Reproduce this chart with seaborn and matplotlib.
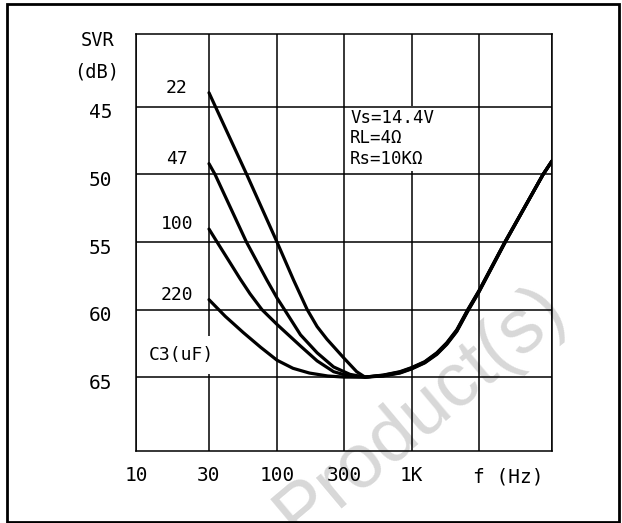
import numpy as np
import pandas as pd
import seaborn as sns
import matplotlib.pyplot as plt
import matplotlib.transforms as mtransforms
from matplotlib.patches import Rectangle

# SVR vs frequency for each C3 value
cap_labels = ['22', '47', '100', '220']

f_22 = [30, 58.5, 100, 131, 164, 193, 227, 300, 376, 436, 604, 814, 1000, 1240, 1510, 1775, 2090, 2500, 3000, 4600, 8630, 10000]
svr_22 = [43.95, 50.0, 55.0, 57.8, 60.0, 61.26, 62.2, 63.6, 64.6, 65.0, 64.85, 64.6, 64.3, 63.86, 63.2, 62.46, 61.5, 60.0, 58.6, 55.0, 50.0, 49.0]

f_47 = [30, 33.4, 58.2, 83.4, 100, 113, 147, 193, 253, 334, 436, 604, 814, 1000, 1240, 1510, 1775, 2090, 2500, 3000, 4600, 8630, 10000]
svr_47 = [49.2, 50.0, 55.0, 57.8, 59.14, 60.0, 61.87, 63.2, 64.25, 64.8, 65.0, 64.87, 64.63, 64.33, 63.89, 63.24, 62.5, 61.54, 60.04, 58.63, 55.0, 50.0, 49.0]

f_100 = [30, 34.6, 43.6, 52.0, 62, 76.5, 100, 147, 193, 253, 334, 436, 604, 814, 1000, 1240, 1510, 1775, 2090, 2500, 3000, 4600, 8630, 10000]
svr_100 = [54.04, 55.0, 56.54, 57.72, 58.83, 60.0, 61.1, 62.7, 63.8, 64.6, 64.95, 65.0, 64.9, 64.67, 64.37, 63.92, 63.28, 62.54, 61.58, 60.08, 58.66, 55.05, 50.0, 49.0]

f_220 = [30, 40, 55, 75, 100, 130, 170, 230, 300, 436, 604, 814, 1000, 1240, 1510, 1775, 2090, 2500, 3000, 4600, 8630, 10000]
svr_220 = [59.27, 60.5, 61.7, 62.8, 63.75, 64.35, 64.7, 64.92, 65.0, 65.0, 64.92, 64.7, 64.4, 63.95, 63.32, 62.58, 61.62, 60.12, 58.7, 55.05, 50.0, 49.0]

x_ticks = [10, 30, 100, 300, 1000, 3000, 10000]
x_tick_labels = ['10', '30', '100', '300', '1K', '', '']
y_ticks = [45, 50, 55, 60, 65]

sns.set_theme(style='white')
plt.rcParams['font.family'] = ['DejaVu Sans Mono', 'DejaVu Sans']

curves = pd.concat([
    pd.DataFrame({'f': f, 'svr': s, 'C3': lbl})
    for lbl, f, s in zip(cap_labels, [f_22, f_47, f_100, f_220], [svr_22, svr_47, svr_100, svr_220])
])

fig = plt.figure(figsize=(6.22, 5.23), dpi=100)
ax = fig.add_axes([136 / 622, 1 - 450.7 / 523, 416 / 622, 416.7 / 523])
ax.patch.set_visible(False)

sns.lineplot(data=curves, x='f', y='svr', hue='C3', hue_order=cap_labels,
             palette={lbl: 'black' for lbl in cap_labels}, estimator=None,
             sort=False, legend=False, linewidth=2.3, ax=ax)

# the printed grid is evenly spaced, so map frequency piecewise onto it
grid_pos = [0, 73, 141, 208, 275.5, 343, 416]
def fwd(x):
    return np.interp(np.log10(np.clip(x, 1e-3, None)), np.log10(x_ticks), grid_pos)
def inv(p):
    return 10 ** np.interp(p, grid_pos, np.log10(x_ticks))
ax.set_xscale('function', functions=(fwd, inv))
ax.set_xlim(10, 10000)
ax.set_ylim(70.45, 39.6)

ax.set_xticks(x_ticks)
ax.set_xticklabels(x_tick_labels)
ax.set_yticks(y_ticks)
ax.set_xlabel('')
ax.set_ylabel('')
ax.tick_params(axis='x', length=0, labelsize=14, pad=11, colors='black')
ax.tick_params(axis='y', length=0, labelsize=14, pad=17, colors='black')
for lab in ax.get_yticklabels():
    lab.set_transform(lab.get_transform() + mtransforms.ScaledTranslation(0, -4 / 100, fig.dpi_scale_trans))

ax.grid(True, color='black', linewidth=1.1)
for sp in ax.spines.values():
    sp.set_visible(True)
    sp.set_color('black')
    sp.set_linewidth(1.1)
ax.set_axisbelow(True)
ax.yaxis.set_zorder(2.2)

# curve labels next to the start of each curve
for lbl, s in zip(cap_labels, [svr_22, svr_47, svr_100, svr_220]):
    ax.text(18.5, s[0] - 0.35, lbl, ha='center', va='center', fontsize=13, color='black')

ax.text(19.8, 63.34, 'C3(uF)', ha='center', va='center', fontsize=13, color='black', zorder=1,
        bbox=dict(facecolor='white', edgecolor='none', boxstyle='square,pad=0.55'))
ax.text(334, 47.33, 'Vs=14.4V\nRL=4Ω\nRs=10KΩ', ha='left', va='center', fontsize=12.5,
        linespacing=1.15, color='black', zorder=1,
        bbox=dict(facecolor='white', edgecolor='none', boxstyle='square,pad=0.2'))
ax.annotate('f (Hz)', xy=(3000, -0.0631), xycoords=ax.get_xaxis_transform(),
            xytext=(-4, 0), textcoords='offset points', ha='left', va='center',
            fontsize=14, color='black')

fig.text(98 / 622, 1 - 40 / 523, 'SVR', ha='center', va='center', fontsize=13.5, color='black')
fig.text(97 / 622, 1 - 72 / 523, '(dB)', ha='center', va='center', fontsize=13.5, color='black')

# faint watermark behind the chart
fig.text(298 / 622, 1 - 540 / 523, 'Product(s)', rotation=40, rotation_mode='anchor',
         ha='left', va='baseline', fontsize=55, color='#d8d8d8',
         family='Liberation Sans', zorder=-1)

fig.add_artist(Rectangle((7 / 622, 1 / 523), 612 / 622, 518 / 523, transform=fig.transFigure,
                         fill=False, edgecolor='black', linewidth=2))

fig.savefig('out.png', dpi=100)
